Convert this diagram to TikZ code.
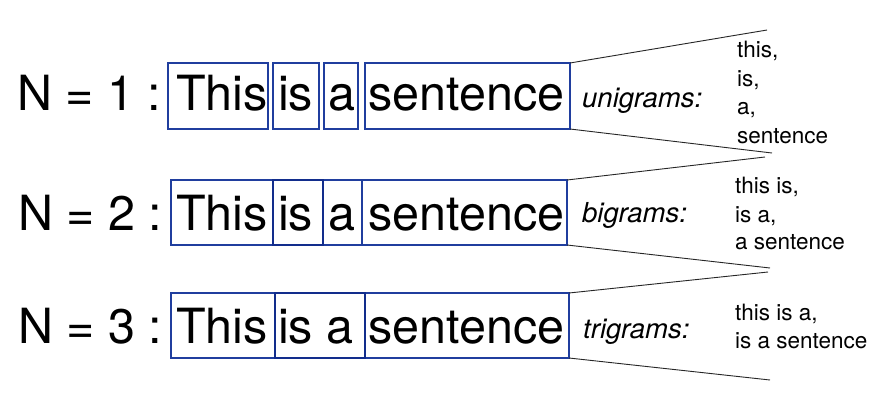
\documentclass[tikz,border=0pt]{standalone}
\usepackage{fontspec}
\setmainfont{TeX Gyre Heros}
\definecolor{boxblue}{RGB}{32,62,158}
\definecolor{boxdark}{RGB}{18,45,140}
\begin{document}
\begin{tikzpicture}[x=1pt,y=-1pt,
  wbox/.style={draw=boxblue,line width=1.6pt,inner sep=0pt,outer sep=0pt},
  wboxb/.style={draw=boxdark,line width=2.2pt,inner sep=0pt,outer sep=0pt},
  big/.style={inner sep=0pt,anchor=base west,font=\fontsize{48.5}{50}\selectfont},
  lab/.style={inner sep=0pt,anchor=base west,font=\fontsize{27.5}{30}\selectfont\itshape},
  gram/.style={inner sep=0pt,anchor=base west,font=\fontsize{22.5}{28}\selectfont},
  fan/.style={draw=black!85,line width=0.9pt}]
\useasboundingbox[fill=white] (0,0) rectangle (881,410);

% ---------- Row 1 ----------
\node[wbox,minimum width=100,minimum height=66] (r1a) at (218,96) {};
\node[wbox,minimum width=46,minimum height=66] (r1b) at (296,96) {};
\node[wbox,minimum width=34,minimum height=66] (r1c) at (341,96) {};
\node[wbox,minimum width=205,minimum height=66] (r1d) at (467.5,96) {};
\node[big] (n1) at (17,110) {N = 1 :};
\node[big] (w1a) at (176,110) {This};
\node[big] (w1b) at (278,110) {is};
\node[big] (w1c) at (328,110) {a};
\node[big] (w1d) at (368,110) {sentence};
\node[lab] (l1) at (582,107) {unigrams:};
\node[gram] (g1a) at (737,57) {this,};
\node[gram] (g1b) at (737,86) {is,};
\node[gram] (g1c) at (737,114) {a,};
\node[gram] (g1d) at (737,143) {sentence};
\coordinate (f1t) at (767,30);
\coordinate (f1b) at (772,153);
\draw[fan] (r1d.north east) -- (f1t);
\draw[fan] (r1d.south east) -- (f1b);

% ---------- Row 2 ----------
\node[wbox,minimum width=102,minimum height=65] (r2a) at (222,212.5) {};
\node[wbox,minimum width=39,minimum height=65] (r2c) at (342.5,212.5) {};
\node[wbox,minimum width=205,minimum height=65] (r2d) at (464.5,212.5) {};
\node[wboxb,minimum width=50,minimum height=65] (r2b) at (298,212.5) {};
\node[big] (n2) at (18,230) {N = 2 :};
\node[big] (w2a) at (176,230) {This};
\node[big] (w2b) at (278,230) {is};
\node[big] (w2c) at (328,230) {a};
\node[big] (w2d) at (368,230) {sentence};
\node[lab] (l2) at (582,222) {bigrams:};
\node[gram] (g2a) at (735,193) {this is,};
\node[gram] (g2b) at (735,222) {is a,};
\node[gram] (g2c) at (735,249) {a sentence};
\coordinate (f2t) at (765,157);
\coordinate (f2b) at (770,268);
\draw[fan] (r2d.north east) -- (f2t);
\draw[fan] (r2d.south east) -- (f2b);

% ---------- Row 3 ----------
\node[wbox,minimum width=104,minimum height=65] (r3a) at (223,325.5) {};
\node[wbox,minimum width=204,minimum height=65] (r3c) at (467,325.5) {};
\node[wboxb,minimum width=90,minimum height=65] (r3b) at (320,325.5) {};
\node[big] (n3) at (18,343) {N = 3 :};
\node[big] (w3a) at (176,343) {This};
\node[big] (w3b) at (278,343) {is a};
\node[big] (w3d) at (368,343) {sentence};
\node[lab] (l3) at (583,338) {trigrams:};
\node[gram] (g3a) at (735,320) {this is a,};
\node[gram] (g3b) at (735,348) {is a sentence};
\coordinate (f3t) at (768,272);
\coordinate (f3b) at (770,380);
\draw[fan] (r3c.north east) -- (f3t);
\draw[fan] (r3c.south east) -- (f3b);
\end{tikzpicture}
\end{document}
